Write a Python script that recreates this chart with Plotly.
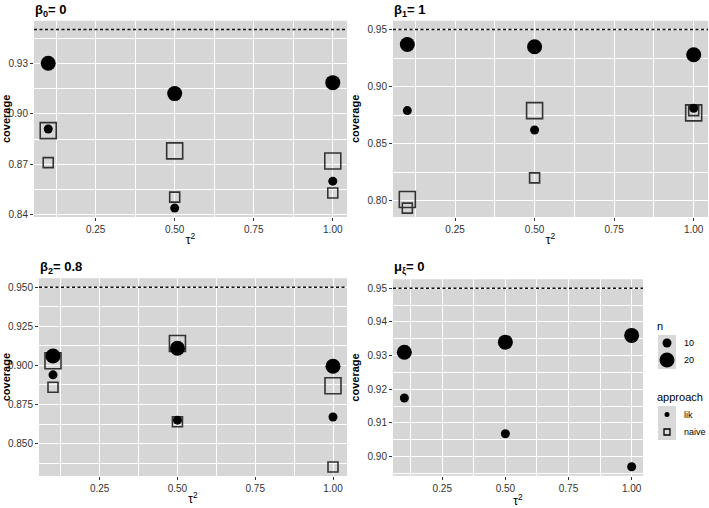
import plotly.graph_objects as go

# ---------------- data ----------------
tau2 = [0.1, 0.5, 1.0]

panel_titles = ["β<sub>0</sub>= 0", "β<sub>1</sub>= 1", "β<sub>2</sub>= 0.8", "μ<sub>ξ</sub>= 0"]

b0_lik_n10 = [0.891, 0.844, 0.860]
b0_lik_n20 = [0.930, 0.912, 0.9185]
b0_naive_n10 = [0.871, 0.8505, 0.853]
b0_naive_n20 = [0.890, 0.878, 0.872]

b1_lik_n10 = [0.879, 0.862, 0.881]
b1_lik_n20 = [0.937, 0.935, 0.928]
b1_naive_n10 = [0.7935, 0.820, 0.879]
b1_naive_n20 = [0.801, 0.879, 0.877]

b2_lik_n10 = [0.894, 0.865, 0.867]
b2_lik_n20 = [0.906, 0.911, 0.8995]
b2_naive_n10 = [0.886, 0.864, 0.835]
b2_naive_n20 = [0.903, 0.914, 0.887]

mu_lik_n10 = [0.9174, 0.9068, 0.897]
mu_lik_n20 = [0.931, 0.934, 0.936]
mu_naive_n10 = []
mu_naive_n20 = []

nominal = 0.95

n_levels = ["10", "20"]
approach_levels = ["lik", "naive"]

x_ticks = [0.25, 0.50, 0.75, 1.00]
y_ticks = [
    [0.84, 0.87, 0.90, 0.93],
    [0.80, 0.85, 0.90, 0.95],
    [0.850, 0.875, 0.900, 0.925, 0.950],
    [0.90, 0.91, 0.92, 0.93, 0.94, 0.95],
]
y_fmt = [".2f", ".2f", ".3f", ".2f"]

panels = [
    (b0_lik_n10, b0_lik_n20, b0_naive_n10, b0_naive_n20),
    (b1_lik_n10, b1_lik_n20, b1_naive_n10, b1_naive_n20),
    (b2_lik_n10, b2_lik_n20, b2_naive_n10, b2_naive_n20),
    (mu_lik_n10, mu_lik_n20, mu_naive_n10, mu_naive_n20),
]

# ---------------- layout geometry ----------------
W, H = 709, 508
def fx(px):
    return px / W
def fy(py):
    return 1 - py / H

x_domains = [[fx(34), fx(347)], [fx(393), fx(708)], [fx(39), fx(347)], [fx(393), fx(643)]]
y_domains = [[fy(217), fy(20.7)], [fy(217), fy(20.7)], [fy(476), fy(278.3)], [fy(475.7), fy(279.3)]]
title_tops = [fy(0), fy(0), fy(257), fy(257)]

PANEL_BG = "#D6D6D6"
KEY_BG = "#D9D9D9"
FONT = "Liberation Sans, Arial, sans-serif"
TICK_COL = "#333333"

SMALL, BIG = 9, 15
SQ_SMALL, SQ_BIG = 10, 16

fig = go.Figure()

xmin, xmax = min(tau2), max(tau2)
xpad = (xmax - xmin) * 0.05

for i, (l10, l20, n10, n20) in enumerate(panels):
    k = "" if i == 0 else str(i + 1)
    xa, ya = "x" + k, "y" + k
    allv = l10 + l20 + n10 + n20 + [nominal]
    lo, hi = min(allv), max(allv)
    pad = (hi - lo) * 0.05

    # dashed nominal line
    fig.add_trace(go.Scatter(x=[xmin - xpad, xmax + xpad], y=[nominal, nominal], mode="lines",
                             line=dict(color="#111", width=1.5, dash="3px,2.5px"),
                             xaxis=xa, yaxis=ya, showlegend=False, hoverinfo="skip"))
    # naive squares
    if n20:
        fig.add_trace(go.Scatter(x=tau2, y=n20, mode="markers", xaxis=xa, yaxis=ya, showlegend=False,
                                 marker=dict(symbol="square-open", size=SQ_BIG, color="#333",
                                             line=dict(width=1.6, color="#333"))))
    if n10:
        fig.add_trace(go.Scatter(x=tau2, y=n10, mode="markers", xaxis=xa, yaxis=ya, showlegend=False,
                                 marker=dict(symbol="square-open", size=SQ_SMALL, color="#333",
                                             line=dict(width=1.6, color="#333"))))
    # lik circles
    fig.add_trace(go.Scatter(x=tau2, y=l20, mode="markers", xaxis=xa, yaxis=ya, showlegend=False,
                             marker=dict(symbol="circle", size=BIG, color="black", line=dict(width=0))))
    fig.add_trace(go.Scatter(x=tau2, y=l10, mode="markers", xaxis=xa, yaxis=ya, showlegend=False,
                             marker=dict(symbol="circle", size=SMALL, color="black", line=dict(width=0))))

    xname = "xaxis" + k
    yname = "yaxis" + k
    fig.layout[xname] = dict(
        domain=x_domains[i], anchor=ya, range=[xmin - xpad, xmax + xpad],
        tickvals=x_ticks, ticktext=["%.2f" % v for v in x_ticks],
        ticks="outside", ticklen=3, tickwidth=1, tickcolor=TICK_COL,
        tickfont=dict(family=FONT, size=10, color=TICK_COL),
        showgrid=True, gridcolor="white", gridwidth=1.2, zeroline=False, showline=False,
        minor=dict(tickvals=[0.125, 0.375, 0.625, 0.875], showgrid=True, gridcolor="white",
                   gridwidth=0.6, ticks=""),
        title=dict(text="τ<sup>2</sup>", font=dict(family=FONT, size=12, color="black"), standoff=1),
        automargin=False, fixedrange=True,
    )
    yt = y_ticks[i]
    step = yt[1] - yt[0]
    fig.layout[yname] = dict(
        domain=y_domains[i], anchor=xa, range=[lo - pad, hi + pad],
        tickvals=yt, tickformat=y_fmt[i],
        ticks="outside", ticklen=3, tickwidth=1, tickcolor=TICK_COL,
        tickfont=dict(family=FONT, size=10, color=TICK_COL),
        showgrid=True, gridcolor="white", gridwidth=1.2, zeroline=False, showline=False,
        minor=dict(tickvals=[v + step / 2 for v in [yt[0] - step] + yt], showgrid=True,
                   gridcolor="white", gridwidth=0.6, ticks=""),
        title=dict(text="<b>coverage</b>", font=dict(family=FONT, size=11, color="black"), standoff=5),
        automargin=False, fixedrange=True,
    )
    # panel background
    fig.add_shape(type="rect", xref=xa + " domain", yref=ya + " domain", x0=0, x1=1, y0=0, y1=1,
                  fillcolor=PANEL_BG, line=dict(width=0), layer="below")
    # panel title
    fig.add_annotation(text="<b>" + panel_titles[i] + "</b>", xref="paper", yref="paper",
                       x=x_domains[i][0] - 1 / W, y=title_tops[i], xanchor="left", yanchor="top",
                       showarrow=False, font=dict(family=FONT, size=13, color="black"))

# ---------------- legend (drawn as guide graphics) ----------------
KEY_X0, KEY_X1 = 658, 676
KEY_CX = (KEY_X0 + KEY_X1) / 2
LABEL_X = 682
TITLE_X = 655

def legend_text(text, px, py, size):
    fig.add_annotation(text=text, xref="paper", yref="paper", x=fx(px), y=fy(py),
                       xanchor="left", yanchor="middle", showarrow=False,
                       font=dict(family=FONT, size=size, color="black"))

def circle(cx, cy, d):
    fig.add_shape(type="circle", xref="paper", yref="paper",
                  x0=fx(cx - d / 2), x1=fx(cx + d / 2), y0=fy(cy + d / 2), y1=fy(cy - d / 2),
                  fillcolor="black", line=dict(width=0))

# n legend
fig.add_shape(type="rect", xref="paper", yref="paper", x0=fx(KEY_X0), x1=fx(KEY_X1), y0=fy(369), y1=fy(335),
              fillcolor=KEY_BG, line=dict(width=0), layer="below")
legend_text("n", TITLE_X, 326, 11)
n_rows = [343, 360]
for lab, cy, d in zip(n_levels, n_rows, [SMALL, BIG]):
    circle(KEY_CX, cy, d)
    legend_text(lab, LABEL_X, cy, 9)

# approach legend
fig.add_shape(type="rect", xref="paper", yref="paper", x0=fx(KEY_X0), x1=fx(KEY_X1), y0=fy(440), y1=fy(406),
              fillcolor=KEY_BG, line=dict(width=0), layer="below")
legend_text("approach", TITLE_X, 397, 11)
a_rows = [414.5, 432]
circle(KEY_CX, a_rows[0], 5)
fig.add_shape(type="rect", xref="paper", yref="paper",
              x0=fx(KEY_CX - 3), x1=fx(KEY_CX + 3), y0=fy(a_rows[1] + 3), y1=fy(a_rows[1] - 3),
              fillcolor="rgba(0,0,0,0)", line=dict(width=1.3, color="black"))
for lab, cy in zip(approach_levels, a_rows):
    legend_text(lab, LABEL_X, cy, 9)

fig.update_layout(
    template="none",
    width=W, height=H, margin=dict(l=0, r=0, t=0, b=0, autoexpand=False),
    paper_bgcolor="white", plot_bgcolor="rgba(0,0,0,0)",
    font=dict(family=FONT, color="black"),
    showlegend=False,
)

fig.write_html("out.html")
